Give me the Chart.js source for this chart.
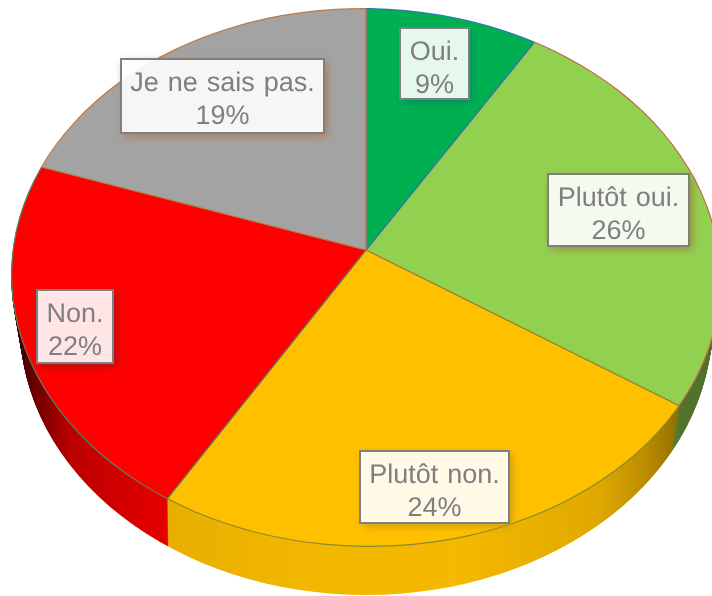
<!DOCTYPE html>
<html lang="fr">
<head>
<meta charset="utf-8">
<title>Camembert</title>
<script src="https://cdn.jsdelivr.net/npm/chart.js@4"></script>
<style>
  html, body { margin: 0; padding: 0; background: #fff; }
  canvas { display: block; }
</style>
</head>
<body>
<canvas id="pie" width="712" height="596"></canvas>
<script>
const categories = ["Oui.", "Plutôt oui.", "Plutôt non.", "Non.", "Je ne sais pas."];
const values = [9, 26, 24, 22, 19];

const sliceColors = ["#00B050", "#92D050", "#FFC000", "#FF0000", "#A3A3A3"];
const edgeColors = ["#2E75B6", "#C8694A", "#8A8A30", "#5F8060", "#C07A40"];
const shadowColors = ["#008A68", "#9A8A40", "#C89A10", "#A01818", "#B07A50"];
// label boxes: left, top, width, height
const labelBoxes = [
  [400, 28, 69, 71],
  [548, 174, 141, 72],
  [360, 451, 149, 72],
  [37, 290, 76, 73],
  [121, 59, 203, 74]
];

// drawing order, so each dividing line keeps the colour it has in the picture
const drawOrder = [1, 2, 3, 0, 4];

const apex = { x: 366, y: 250 };
const rim = { x: 366, y: 277.5, rx: 355, ry: 269.5, tilt: 1 * Math.PI / 180 };
const reachX = 355;
const reachUp = 242;
const reachDown = 297;
const overshoot = 1.15;
const depth = 48;
const depthShrink = 9;
const rightSkew = 6.5 * Math.PI / 180; // the view is turned a little, right side looks narrower
const leftSkew = 1.5 * Math.PI / 180;

function drawSlices(ctx, arcs, colors, borderWidth, dy) {
  const R = arcs[0].outerRadius;
  const cx = arcs[0].x;
  const cy = arcs[0].y;
  const W = ctx.canvas.width;
  const H = ctx.canvas.height;
  const splitY = apex.y + dy;
  const halves = [
    { top: 0, bottom: splitY + 0.5, reach: reachUp },
    { top: splitY - 0.5, bottom: H, reach: reachDown }
  ];
  halves.forEach(half => {
    ctx.save();
    ctx.beginPath();
    ctx.rect(0, half.top, W, half.bottom - half.top);
    ctx.clip();
    ctx.translate(apex.x, splitY);
    ctx.scale(reachX * overshoot / R, half.reach * overshoot / R);
    ctx.translate(-cx, -cy);
    drawOrder.forEach(i => {
      const arc = arcs[i];
      const saved = arc.options;
      arc.options = { ...saved, backgroundColor: colors[i], borderColor: edgeColors[i], borderWidth: borderWidth };
      arc.draw(ctx);
      arc.options = saved;
    });
    ctx.restore();
  });
}

// d is how far down the wall we are, inset keeps the fill inside its edge line
function clipRim(ctx, d, inset) {
  const along = d / depth;
  ctx.beginPath();
  ctx.ellipse(rim.x, rim.y + d, rim.rx - depthShrink * along - inset, rim.ry - inset, rim.tilt * (1 - along), 0, Math.PI * 2);
  ctx.clip();
}

const piePerspective = {
  id: "piePerspective",
  afterDatasetsUpdate(chart) {
    const skew = a => {
      const fromTop = a + Math.PI / 2;
      const s = Math.sin(fromTop);
      return s > 0 ? a - rightSkew * s : a + leftSkew * Math.sin(2 * fromTop);
    };
    chart.getDatasetMeta(0).data.forEach(arc => {
      arc.startAngle = skew(arc.startAngle);
      arc.endAngle = skew(arc.endAngle);
      arc.circumference = arc.endAngle - arc.startAngle;
    });
  },
  beforeDatasetsDraw(chart) {
    const ctx = chart.ctx;
    const arcs = chart.getDatasetMeta(0).data;

    // side wall, from the bottom disc up
    for (let d = depth; d >= 1; d--) {
      ctx.save();
      clipRim(ctx, d, 0);
      drawSlices(ctx, arcs, sliceColors, 0, d);
      ctx.restore();
    }

    // wall shading, only on what is already painted
    ctx.save();
    const shade = ctx.createLinearGradient(0, 0, 712, 0);
    shade.addColorStop(0.02, "rgba(0,0,0,0.8)");
    shade.addColorStop(0.06, "rgba(0,0,0,0.5)");
    shade.addColorStop(0.1, "rgba(0,0,0,0.27)");
    shade.addColorStop(0.24, "rgba(0,0,0,0.09)");
    shade.addColorStop(0.42, "rgba(0,0,0,0.05)");
    shade.addColorStop(0.64, "rgba(0,0,0,0.04)");
    shade.addColorStop(0.84, "rgba(0,0,0,0.12)");
    shade.addColorStop(0.91, "rgba(0,0,0,0.28)");
    shade.addColorStop(0.96, "rgba(0,0,0,0.45)");
    ctx.globalCompositeOperation = "source-atop";
    ctx.fillStyle = shade;
    ctx.fillRect(0, 0, 712, 596);
    ctx.restore();

    // top face: edge colour first, then the fill just inside it
    ctx.save();
    clipRim(ctx, 0, 0);
    drawSlices(ctx, arcs, edgeColors, 0, 0);
    ctx.restore();
    ctx.save();
    clipRim(ctx, 0, 1.2);
    drawSlices(ctx, arcs, sliceColors, 1, 0);
    ctx.restore();

    return false;
  },
  afterDraw(chart) {
    const ctx = chart.ctx;
    categories.forEach((name, i) => {
      const [x, y, w, h] = labelBoxes[i];

      ctx.save();
      ctx.beginPath();
      ctx.rect(0, 0, 712, 596);
      ctx.rect(x, y, w, h);
      ctx.clip("evenodd");
      ctx.shadowColor = shadowColors[i];
      ctx.shadowBlur = 8;
      ctx.shadowOffsetX = 3;
      ctx.shadowOffsetY = 3;
      ctx.fillStyle = "#000";
      ctx.fillRect(x, y, w, h);
      ctx.restore();

      ctx.save();
      ctx.fillStyle = "rgba(255,255,255,0.9)";
      ctx.fillRect(x, y, w, h);
      ctx.strokeStyle = "#7F7F7F";
      ctx.lineWidth = 2;
      ctx.strokeRect(x, y, w, h);
      ctx.fillStyle = "#7F7F7F";
      ctx.font = '27px "Liberation Sans", Arial, sans-serif';
      ctx.textRendering = "geometricPrecision";
      ctx.wordSpacing = "1.5px";
      ctx.textAlign = "center";
      ctx.textBaseline = "alphabetic";
      ctx.fillText(name, x + w / 2, y + 32);
      ctx.fillText(values[i] + "%", x + w / 2, y + 65);
      ctx.restore();
    });
  }
};

new Chart(document.getElementById("pie"), {
  type: "pie",
  data: {
    labels: categories,
    datasets: [{
      data: values,
      backgroundColor: sliceColors,
      borderColor: edgeColors,
      borderWidth: 1
    }]
  },
  options: {
    responsive: false,
    animation: false,
    events: [],
    plugins: {
      legend: { display: false },
      tooltip: { enabled: false }
    }
  },
  plugins: [piePerspective]
});
</script>
</body>
</html>
